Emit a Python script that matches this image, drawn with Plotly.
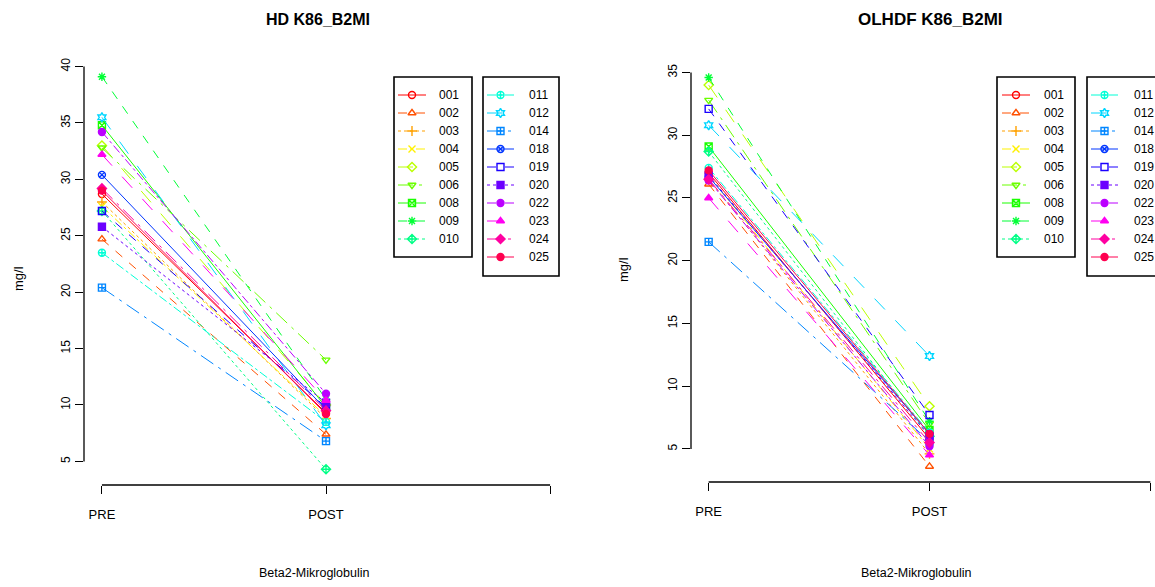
import colorsys
import plotly.graph_objects as go

# Patient IDs (one line per patient in each panel)
patients = ["001", "002", "003", "004", "005", "006", "008", "009", "010",
            "011", "012", "014", "018", "019", "020", "022", "023", "024", "025"]

# Measurement points on the x axis
stage_x = [1, 2]
x_tickvals = [1, 2, 3]
x_ticktext = ["PRE", "POST", ""]

# Beta2-microglobulin (mg/l), HD
hd_pre = [28.7, 24.7, 28.0, 27.6, 33.0, 32.8, 34.8, 39.1, 27.2,
          23.5, 35.5, 20.4, 30.4, 27.2, 25.8, 34.2, 32.2, 29.2, 29.0]
hd_post = [9.3, 7.4, 8.8, 9.0, 10.0, 14.0, 9.8, 10.5, 4.3,
           8.5, 8.2, 6.8, 9.6, 9.8, 10.2, 11.0, 10.4, 9.5, 9.2]

# Beta2-microglobulin (mg/l), OLHDF
olhdf_pre = [27.0, 26.1, 26.5, 26.8, 34.0, 32.8, 29.1, 34.6, 28.7,
             27.4, 30.8, 21.5, 26.7, 32.1, 26.8, 26.4, 25.0, 26.5, 27.2]
olhdf_post = [5.8, 3.6, 4.6, 5.0, 8.4, 7.0, 6.5, 7.2, 6.0,
              6.3, 12.4, 5.6, 6.2, 7.7, 6.0, 5.2, 4.5, 5.5, 6.2]

hd_yticks = [5, 10, 15, 20, 25, 30, 35, 40]
olhdf_yticks = [5, 10, 15, 20, 25, 30, 35]

W, H = 1155, 587
FONT = "Liberation Sans, Arial, sans-serif"

# rainbow palette, line types and plotting symbols cycling per patient
n = len(patients)
colors = []
for i in range(n):
    r, g, b = colorsys.hsv_to_rgb(i / n, 1.0, 1.0)
    colors.append(f"rgb({int(r*255)},{int(g*255)},{int(b*255)})")
dashes = ["solid", "dash", "dot", "dashdot", "longdash", "longdashdot"]
symbols = ["circle-open", "triangle-up-open", "cross-thin-open", "x-thin-open",
           "diamond-open", "triangle-down-open", "square-x-open", "asterisk-open",
           "diamond-cross-open", "circle-cross-open", "hexagram-open",
           "square-cross-open", "circle-x-open", "square-open", "square",
           "circle", "triangle-up", "diamond", "circle"]


def padded(lo, hi):
    pad = 0.04 * (hi - lo)
    return [lo - pad, hi + pad]


def marker_style(i, size=7):
    return dict(symbol=symbols[i], size=size, color=colors[i],
                line=dict(color=colors[i], width=1.4))


fig = go.Figure()

panels = [
    (hd_pre, hd_post, "x", "y"),
    (olhdf_pre, olhdf_post, "x2", "y2"),
]
for pre, post, xa, ya in panels:
    for i, pid in enumerate(patients):
        fig.add_trace(go.Scatter(
            x=stage_x, y=[pre[i], post[i]],
            mode="lines+markers", name=pid, showlegend=False,
            xaxis=xa, yaxis=ya,
            line=dict(color=colors[i], width=1, dash=dashes[i % 6]),
            marker=marker_style(i),
        ))

# Legend boxes, drawn on a pixel-based overlay axis (two columns per panel)
# (left, top, right, bottom, first row y, sample x0, sample x1, text x, first, last)
legend_boxes = [
    (394, 77, 472, 257, 95, 398, 426, 437, 0, 9),
    (483, 77, 559, 276, 95, 487, 514, 527, 9, 19),
    (997, 77, 1075, 257, 95, 1002, 1030, 1042, 0, 9),
    (1087, 77, 1165, 276, 95, 1091, 1118, 1132, 9, 19),
]
ROW = 18
for left, top, right, bottom, y0, sx0, sx1, tx, a, b in legend_boxes:
    fig.add_shape(type="rect", xref="x3", yref="y3", x0=left, x1=right,
                  y0=top, y1=bottom, line=dict(color="black", width=1.6),
                  fillcolor="rgba(0,0,0,0)", layer="above")
    for k, i in enumerate(range(a, b)):
        yy = y0 + k * ROW
        fig.add_trace(go.Scatter(
            x=[sx0, sx1], y=[yy, yy], mode="lines", showlegend=False,
            xaxis="x3", yaxis="y3", hoverinfo="skip",
            line=dict(color=colors[i], width=1, dash=dashes[i % 6]),
        ))
        fig.add_trace(go.Scatter(
            x=[(sx0 + sx1) / 2], y=[yy], mode="markers", showlegend=False,
            xaxis="x3", yaxis="y3", hoverinfo="skip",
            marker=marker_style(i),
        ))
        fig.add_annotation(text=patients[i], xref="x3", yref="y3", x=tx, y=yy,
                           showarrow=False, xanchor="left", yanchor="middle",
                           font=dict(family=FONT, size=12, color="black"))

hd_range = padded(min(hd_pre + hd_post), max(hd_pre + hd_post))
ol_range = padded(min(olhdf_pre + olhdf_post), max(olhdf_pre + olhdf_post))


def px_x(p):
    return p / W


def px_y(p):
    return 1 - p / H


common_x = dict(tickvals=x_tickvals, ticktext=x_ticktext, ticks="outside",
                ticklen=8, tickwidth=1.2, tickcolor="black", showgrid=False,
                zeroline=False, showline=False, ticklabelstandoff=9,
                tickfont=dict(family=FONT, size=13, color="black"))
common_y = dict(ticks="outside", ticklen=8, tickwidth=1.2, tickcolor="black",
                showgrid=False, zeroline=False, showline=False, tickangle=-90,
                tickfont=dict(family=FONT, size=12, color="black"))

fig.update_layout(
    width=W, height=H,
    margin=dict(l=0, r=0, t=0, b=0, autoexpand=False),
    paper_bgcolor="white", plot_bgcolor="rgba(0,0,0,0)",
    showlegend=False,
    xaxis=dict(domain=[px_x(84), px_x(568)], range=[0.92, 3.08], anchor="y", **common_x),
    yaxis=dict(domain=[px_y(485), px_y(61)], range=hd_range, anchor="x",
               tickvals=hd_yticks, **common_y),
    xaxis2=dict(domain=[px_x(691), 1.0], range=[0.92, 0.92 + 2.16 * (W - 691) / (1168 - 691)],
                anchor="y2", **common_x),
    yaxis2=dict(domain=[px_y(482), px_y(62)], range=ol_range, anchor="x2",
                tickvals=olhdf_yticks, **common_y),
    xaxis3=dict(domain=[0, 1], range=[0, W], anchor="y3", visible=False, fixedrange=True),
    yaxis3=dict(domain=[0, 1], range=[H, 0], anchor="x3", visible=False, fixedrange=True),
)

# R-style axis lines spanning only the first to the last tick
for xa, ya, yt in [("x", "y", hd_yticks), ("x2", "y2", olhdf_yticks)]:
    fig.add_shape(type="line", xref=xa, yref=f"{ya} domain",
                  x0=min(x_tickvals), x1=max(x_tickvals), y0=0, y1=0,
                  line=dict(color="black", width=1.3))
    fig.add_shape(type="line", xref=f"{xa} domain", yref=ya,
                  x0=0, x1=0, y0=min(yt), y1=max(yt),
                  line=dict(color="black", width=1.3))

# titles and axis labels
texts = [
    ("HD K86_B2MI", 318, 19, 0, 16, True),
    ("OLHDF K86_B2MI", 930, 19, 0, 17, True),
    ("mg/l", 18, 279, -90, 13, False),
    ("mg/l", 623, 270, -90, 13, False),
    ("Beta2-Mikroglobulin", 314, 573, 0, 12.5, False),
    ("Beta2-Mikroglobulin", 916, 573, 0, 12.5, False),
]
for t, x, y, ang, size, bold in texts:
    fig.add_annotation(text=f"<b>{t}</b>" if bold else t, xref="paper", yref="paper",
                       x=px_x(x), y=px_y(y), showarrow=False, textangle=ang,
                       xanchor="center", yanchor="middle",
                       font=dict(family=FONT, size=size, color="black"))

fig.write_html("out.html")
